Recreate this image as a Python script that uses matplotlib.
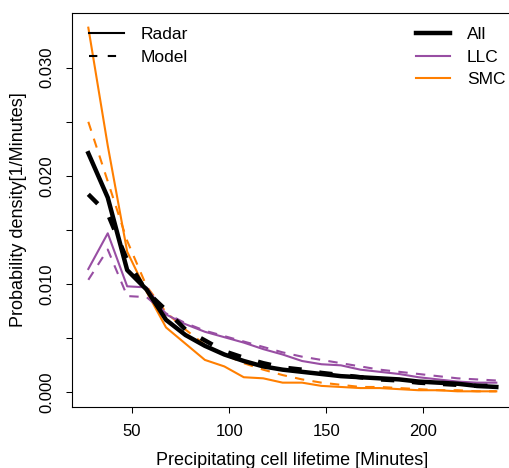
import matplotlib
matplotlib.use('Agg')
import matplotlib.pyplot as plt
import numpy as np

plt.rcParams['font.family'] = ['Liberation Sans', 'DejaVu Sans']

# cell lifetime bins (minutes)
lifetime = np.arange(27.5, 240, 10)

all_radar = [0.0221, 0.0180, 0.0113, 0.0095, 0.0067, 0.0053, 0.0043, 0.0035,
             0.0029, 0.0024, 0.0021, 0.0019, 0.0017, 0.0015, 0.0014, 0.0013,
             0.0012, 0.0010, 0.0009, 0.0008, 0.0006, 0.0005]
all_model = [0.0183, 0.0165, 0.0122, 0.0093, 0.0076, 0.0058, 0.0048, 0.0038,
             0.0032, 0.0027, 0.0023, 0.0021, 0.0018, 0.0016, 0.0014, 0.0012,
             0.0011, 0.0009, 0.0008, 0.0007, 0.0006, 0.0006]
llc_radar = [0.0114, 0.0147, 0.0098, 0.0097, 0.0072, 0.0063, 0.0056, 0.0051,
             0.0046, 0.0040, 0.0035, 0.0029, 0.0026, 0.0025, 0.0021, 0.0019,
             0.0017, 0.0014, 0.0012, 0.0010, 0.0009, 0.0009]
llc_model = [0.0104, 0.0132, 0.0089, 0.0088, 0.0073, 0.0064, 0.0057, 0.0052,
             0.0047, 0.0042, 0.0037, 0.0033, 0.0030, 0.0027, 0.0024, 0.0021,
             0.0019, 0.0017, 0.0015, 0.0013, 0.0012, 0.0011]
smc_radar = [0.0337, 0.0228, 0.0130, 0.0093, 0.0060, 0.0045, 0.0030, 0.0024,
             0.0014, 0.0013, 0.0009, 0.0009, 0.0006, 0.0005, 0.0004, 0.0004,
             0.0003, 0.0002, 0.0002, 0.0001, 0.0001, 0.0001]
smc_model = [0.0250, 0.0195, 0.0140, 0.0098, 0.0074, 0.0058, 0.0044, 0.0035,
             0.0027, 0.0021, 0.0016, 0.0012, 0.0009, 0.0007, 0.0005, 0.0005,
             0.0004, 0.0003, 0.0002, 0.0002, 0.0001, 0.0001]

purple = '#984ea3'
orange = '#ff7f00'
thin = 1.5
thick = 3.2

fig = plt.figure(figsize=(5.10, 4.68), dpi=100)
ax = fig.add_axes([72 / 510, 61 / 468, 0.864, 394.5 / 468])

ax.plot(lifetime, smc_radar, color=orange, lw=thin)
ax.plot(lifetime, smc_model, color=orange, lw=thin, ls=(0, (4.5, 4)))
ax.plot(lifetime, llc_radar, color=purple, lw=thin)
ax.plot(lifetime, llc_model, color=purple, lw=thin, ls=(0, (4.5, 4)))
ax.plot(lifetime, all_radar, color='black', lw=thick)
ax.plot(lifetime, all_model, color='black', lw=thick, ls=(0, (3, 4)))

ax.set_xlim(19.1, 245.9)
ax.set_ylim(-0.00135, 0.0351)
ax.set_xticks([50, 100, 150, 200])
ax.set_yticks(np.arange(0, 0.031, 0.005))
ax.set_yticklabels(['0.000', '', '0.010', '', '0.020', '', '0.030'])
ax.tick_params(direction='out', length=4.5, width=0.75, labelsize=12, pad=8)
for label in ax.get_yticklabels():
    label.set_rotation(90)
    label.set_va('center')
for s in ax.spines.values():
    s.set_linewidth(0.8)

ax.set_xlabel('Precipitating cell lifetime [Minutes]', fontsize=13, labelpad=9)
ax.set_ylabel('Probability density[1/Minutes]', fontsize=13, labelpad=9)

# legend: line type
h1 = [plt.Line2D([], [], color='black', lw=thin),
      plt.Line2D([], [], color='black', lw=thin, ls=(0, (4, 5)))]
leg1 = ax.legend(h1, ['Radar', 'Model'], loc='upper left', frameon=False,
                 fontsize=12.5, handlelength=2.0, handletextpad=0.95,
                 borderaxespad=0.0, labelspacing=0.42,
                 bbox_to_anchor=(0.023, 0.98))
ax.add_artist(leg1)

# legend: cell type
h2 = [plt.Line2D([], [], color='black', lw=thick),
      plt.Line2D([], [], color=purple, lw=thin),
      plt.Line2D([], [], color=orange, lw=thin)]
ax.legend(h2, ['All', 'LLC', 'SMC'], loc='upper left', frameon=False,
          fontsize=12.5, handlelength=2.0, handletextpad=0.95,
          borderaxespad=0.0, labelspacing=0.42,
          bbox_to_anchor=(0.764, 0.98))

fig.savefig('out.png', dpi=100)
